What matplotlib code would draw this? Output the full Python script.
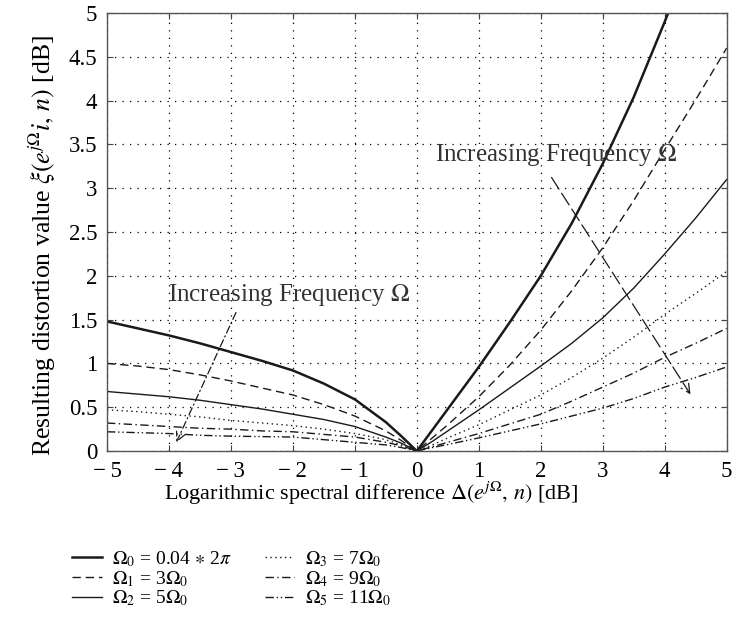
import matplotlib
matplotlib.use("Agg")
import matplotlib.pyplot as plt

plt.rcParams["font.family"] = ["Liberation Serif", "DejaVu Serif"]
plt.rcParams["mathtext.fontset"] = "stix"
plt.rcParams["font.size"] = 14

# Spectral difference grid (dB)
delta = [-5, -4.5, -4, -3.5, -3, -2.5, -2, -1.5, -1, -0.5, -0.25, 0,
         0.25, 0.5, 1, 1.5, 2, 2.5, 3, 3.5, 4, 4.5, 5]

# Resulting distortion (dB) for each frequency
xi_0 = [1.48, 1.40, 1.32, 1.23, 1.13, 1.03, 0.92, 0.77, 0.59, 0.33, 0.17, 0.0,
        0.24, 0.48, 0.96, 1.47, 2.00, 2.60, 3.28, 4.04, 4.90, 5.80, 6.70]
xi_1 = [1.00, 0.97, 0.93, 0.87, 0.80, 0.72, 0.64, 0.53, 0.40, 0.23, 0.12, 0.0,
        0.15, 0.30, 0.62, 0.98, 1.38, 1.83, 2.32, 2.86, 3.44, 4.01, 4.60]
xi_2 = [0.68, 0.65, 0.62, 0.58, 0.53, 0.48, 0.42, 0.36, 0.28, 0.16, 0.09, 0.0,
        0.11, 0.23, 0.47, 0.72, 0.97, 1.23, 1.52, 1.86, 2.25, 2.66, 3.10]
xi_3 = [0.47, 0.45, 0.42, 0.39, 0.35, 0.32, 0.29, 0.25, 0.20, 0.13, 0.07, 0.0,
        0.07, 0.15, 0.30, 0.47, 0.64, 0.84, 1.06, 1.30, 1.56, 1.80, 2.05]
xi_4 = [0.32, 0.30, 0.28, 0.26, 0.25, 0.23, 0.22, 0.19, 0.16, 0.10, 0.06, 0.0,
        0.05, 0.10, 0.20, 0.31, 0.42, 0.57, 0.73, 0.89, 1.07, 1.23, 1.40]
xi_5 = [0.22, 0.21, 0.20, 0.18, 0.17, 0.165, 0.16, 0.13, 0.10, 0.07, 0.04, 0.0,
        0.04, 0.075, 0.15, 0.23, 0.31, 0.40, 0.49, 0.60, 0.73, 0.84, 0.96]

labels = [r"$\Omega_0$ = 0.04 $\ast$ 2$\pi$",
          r"$\Omega_1$ = 3$\Omega_0$",
          r"$\Omega_2$ = 5$\Omega_0$",
          r"$\Omega_3$ = 7$\Omega_0$",
          r"$\Omega_4$ = 9$\Omega_0$",
          r"$\Omega_5$ = 11$\Omega_0$"]

x_ticks = [-5, -4, -3, -2, -1, 0, 1, 2, 3, 4, 5]
y_ticks = [0, 0.5, 1, 1.5, 2, 2.5, 3, 3.5, 4, 4.5, 5]
y_ticklabels = ["0", "0.5", "1", "1.5", "2", "2.5", "3", "3.5", "4", "4.5", "5"]

ink = "#1a1a1a"
styles = [
    dict(lw=1.8, ls="-"),
    dict(lw=1.0, ls=(0, (6, 3.5))),
    dict(lw=1.0, ls="-"),
    dict(lw=1.0, ls=(0, (1, 2.5))),
    dict(lw=1.0, ls=(0, (6, 2.5, 1, 2.5))),
    dict(lw=1.0, ls=(0, (6, 2, 1, 2, 1, 2))),
]

fig = plt.figure(figsize=(7.43, 6.23), dpi=100)
ax = fig.add_axes([0.144, 0.276, 0.834, 0.703])

for series, lab, st in zip([xi_0, xi_1, xi_2, xi_3, xi_4, xi_5], labels, styles):
    ax.plot(delta, series, color=ink, label=lab, solid_joinstyle="round", **st)

ax.set_xlim(-5, 5)
ax.set_ylim(0, 5)
ax.set_xticks(x_ticks)
ax.set_xticklabels([("\u2212\u2009%d" % -t) if t < 0 else str(t) for t in x_ticks])
ax.set_yticks(y_ticks)
ax.set_yticklabels(y_ticklabels)
ax.grid(True, color="black", ls=(0, (1, 5)), lw=0.9)
ax.tick_params(direction="in", length=4, top=True, right=True, color="#444444",
               labelsize=16.5)
ax.tick_params(axis="x", pad=7)
ax.tick_params(axis="y", pad=7)
for sp in ax.spines.values():
    sp.set_color("#555555")
    sp.set_linewidth(1.0)

ax.set_xlabel(r"Logarithmic spectral difference $\Delta(e^{j\Omega},\, n)$ [dB]",
              fontsize=16)
ax.xaxis.set_label_coords(0.427, -0.097)
ax.xaxis.label.set_va("center")
ax.set_ylabel(r"Resulting distortion value $\xi(e^{j\Omega}i,\, n)$ [dB]",
              fontsize=18.5)
ax.yaxis.set_label_coords(-0.105, 0.47)
ax.yaxis.label.set_va("center")

# Annotations indicating the trend with frequency
ax.text(0.29, 3.38, r"Increasing Frequency $\Omega$", fontsize=18, color="#333333",
        va="center", ha="left")
ax.annotate("", xy=(4.44, 0.62), xytext=(2.15, 3.15),
            arrowprops=dict(arrowstyle="->", color=ink, lw=0.9,
                            linestyle=(0, (11, 4)), mutation_scale=16))
ax.text(-4.02, 1.78, r"Increasing Frequency $\Omega$", fontsize=18, color="#333333",
        va="center", ha="left")
ax.annotate("", xy=(-3.9, 0.07), xytext=(-2.9, 1.61),
            arrowprops=dict(arrowstyle="->", color=ink, lw=0.9,
                            linestyle=(0, (6, 2.5, 1, 2.5)), mutation_scale=16))

fig.legend(loc="upper left", bbox_to_anchor=(0.087, 0.131), ncol=2, frameon=False,
           fontsize=14, handlelength=1.5, handletextpad=0.55, columnspacing=1.7,
           labelspacing=0.0, borderaxespad=0)

fig.savefig("out.png", dpi=100)
